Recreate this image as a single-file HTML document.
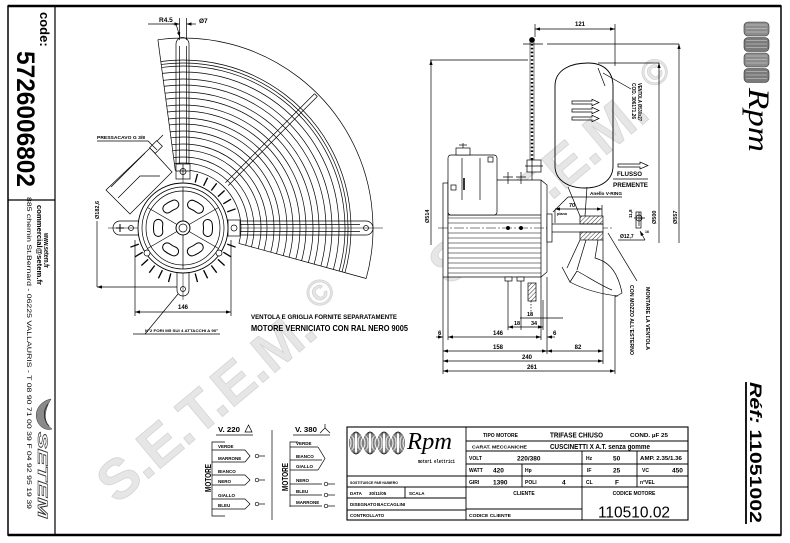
<!DOCTYPE html>
<html><head><meta charset="utf-8">
<style>
html,body{margin:0;padding:0;background:#fff;}
svg{display:block;}
text{font-family:"Liberation Sans",Arial,sans-serif;font-weight:bold;fill:#000;stroke:none;}
.wm{fill:#e6e6e6;stroke:#d4d4d4;stroke-width:.8px;font-size:56px;}
.n{font-weight:normal;}
.serif{font-family:"Liberation Serif","Times New Roman",serif;font-style:italic;font-weight:normal;}
.mono{font-family:"Liberation Mono",monospace;}
</style></head><body>
<svg width="790" height="543" viewBox="0 0 790 543" xmlns="http://www.w3.org/2000/svg">
<defs>
<marker id="ar" viewBox="0 0 6 4" refX="6" refY="2" markerWidth="5" markerHeight="3.4" markerUnits="userSpaceOnUse" orient="auto-start-reverse"><path d="M0,0 L6,2 L0,4z" fill="#000"/></marker>
<pattern id="hatch" width="3" height="3" patternUnits="userSpaceOnUse" patternTransform="rotate(45)"><line x1="0" y1="0" x2="0" y2="3" stroke="#000" stroke-width="0.8"/></pattern>
</defs>
<rect width="790" height="543" fill="#fff"/>

<!-- watermarks -->
<text class="wm" transform="translate(117,505) rotate(-40)">S.E.T.E.M.<tspan font-size="36" dx="14" dy="-20">©</tspan></text>
<text class="wm" transform="translate(449,287) rotate(-40)">S.E.T.E.M.<tspan font-size="36" dx="18" dy="-20">©</tspan></text>

<!-- frame -->
<rect x="8" y="6" width="773" height="529" fill="none" stroke="#000" stroke-width="1.5"/>
<line x1="8" y1="6" x2="781" y2="6" stroke="#000" stroke-width="2.5"/>
<line x1="8" y1="535" x2="781" y2="535" stroke="#000" stroke-width="2.5"/>
<line x1="55" y1="6" x2="55" y2="535" stroke="#000" stroke-width="1.2"/>
<line x1="8" y1="200" x2="55" y2="200" stroke="#000" stroke-width="1.2"/>

<!-- left strip -->
<text transform="translate(40,12) rotate(90)" font-size="13">code:</text>
<text transform="translate(17,51) rotate(90)" font-size="25" textLength="136" lengthAdjust="spacingAndGlyphs">5726006802</text>
<text transform="translate(44,233) rotate(90)" font-size="7.5" textLength="35" lengthAdjust="spacingAndGlyphs">www.setem.fr</text>
<text transform="translate(37,205) rotate(90)" font-size="7.5" textLength="80" lengthAdjust="spacingAndGlyphs">commercial@setem.fr</text>
<text class="n" transform="translate(27,197) rotate(90)" font-size="6.8" textLength="312" lengthAdjust="spacingAndGlyphs">885 chemin St.Bernard  -  06225 VALLAURIS  -  T 08 90 71 00 39  F 04 92 95 19 39</text>
<path d="M51 399 C40 401 34 411 37 420 C39 427 46 431 52 429 C45 424 42 414 51 399 Z" fill="#8a8a8a" stroke="#333" stroke-width="0.5"/>
<path d="M48 404 C43 410 43 420 49 426" fill="none" stroke="#222" stroke-width="0.8"/>
<text transform="translate(38,432) rotate(90)" font-size="14" font-style="italic" textLength="86" lengthAdjust="spacingAndGlyphs" style="fill:#fff;stroke:#333;stroke-width:.6px">SETEM</text>

<!-- right strip logo -->
<g stroke="#333" stroke-width="0.6">
<rect x="744" y="22" width="25" height="14" rx="4" fill="#8c8c8c"/>
<rect x="744" y="37.5" width="25" height="14" rx="4" fill="#7a7a7a"/>
<rect x="744" y="53" width="25" height="14" rx="4" fill="#8c8c8c"/>
<rect x="744" y="68.5" width="25" height="14" rx="4" fill="#7a7a7a"/>
</g>
<g stroke="#d8d8d8" stroke-width="0.6">
<line x1="746" y1="25" x2="767" y2="25"/><line x1="746" y1="28.5" x2="767" y2="28.5"/><line x1="746" y1="32" x2="767" y2="32"/>
<line x1="746" y1="40.5" x2="767" y2="40.5"/><line x1="746" y1="44" x2="767" y2="44"/><line x1="746" y1="47.5" x2="767" y2="47.5"/>
<line x1="746" y1="56" x2="767" y2="56"/><line x1="746" y1="59.5" x2="767" y2="59.5"/><line x1="746" y1="63" x2="767" y2="63"/>
<line x1="746" y1="71.5" x2="767" y2="71.5"/><line x1="746" y1="75" x2="767" y2="75"/><line x1="746" y1="78.5" x2="767" y2="78.5"/>
</g>
<text class="serif" transform="translate(749,88) rotate(90)" font-size="30" textLength="64" lengthAdjust="spacingAndGlyphs">Rpm</text>
<text transform="translate(750,382) rotate(90)" font-size="16.5" textLength="141" lengthAdjust="spacingAndGlyphs"><tspan font-style="italic">Réf:</tspan> 11051002</text>
<line x1="746" y1="382" x2="746" y2="524" stroke="#000" stroke-width="1.8"/>

<!-- ================= FRONT VIEW ================= -->
<g fill="none" stroke="#000" stroke-width="0.7">
<g transform="rotate(262.4 183 228)">
<circle cx="183" cy="228" r="190" stroke-dasharray="374.7 819.1"/>
<circle cx="183" cy="228" r="168" stroke-dasharray="331.3 724.3"/>
<circle cx="183" cy="228" r="165" stroke-dasharray="325.4 711.3"/>
<circle cx="183" cy="228" r="162" stroke-dasharray="319.5 698.4"/>
<circle cx="183" cy="228" r="156" stroke-dasharray="307.7 672.5"/>
<circle cx="183" cy="228" r="149" stroke-dasharray="293.9 642.3"/>
<circle cx="183" cy="228" r="143" stroke-dasharray="282.0 616.5"/>
<circle cx="183" cy="228" r="136" stroke-dasharray="268.2 586.3"/>
<circle cx="183" cy="228" r="130" stroke-dasharray="256.4 560.4"/>
<circle cx="183" cy="228" r="123" stroke-dasharray="242.6 530.3"/>
<circle cx="183" cy="228" r="117" stroke-dasharray="230.7 504.4"/>
<circle cx="183" cy="228" r="110" stroke-dasharray="216.9 474.2"/>
<circle cx="183" cy="228" r="104" stroke-dasharray="205.1 448.3"/>
<circle cx="183" cy="228" r="97" stroke-dasharray="191.3 418.2"/>
<circle cx="183" cy="228" r="91" stroke-dasharray="179.5 392.3"/>
<circle cx="183" cy="228" r="84" stroke-dasharray="165.7 362.1"/>
<circle cx="183" cy="228" r="78" stroke-dasharray="153.8 336.3"/>
<circle cx="183" cy="228" r="71" stroke-dasharray="140.0 306.1"/>
<circle cx="183" cy="228" r="65" stroke-dasharray="128.2 280.2"/>
<circle cx="183" cy="228" r="58" stroke-dasharray="114.4 250.0"/>
</g>
<line x1="157.9" y1="39.7" x2="175.3" y2="170.5"/>
<line x1="238.9" y1="243.4" x2="366.2" y2="278.5"/>
<!-- diagonal bar -->
<line x1="228.2" y1="185.6" x2="317.3" y2="96.5"/>
<line x1="225.4" y1="182.8" x2="314.5" y2="93.7"/>
<line x1="317.3" y1="96.5" x2="314.5" y2="93.7"/>
<!-- centre lines -->
<line x1="108" y1="228" x2="383" y2="228" stroke-width="0.5"/>
<line x1="183" y1="165" x2="183" y2="300" stroke-width="0.5"/>
<!-- top arm -->
<path d="M176 168 V44 A6.5 6.5 0 0 1 189 44 V168"/>
<line x1="179.5" y1="46" x2="179.5" y2="166"/>
<line x1="186.5" y1="46" x2="186.5" y2="166"/>
<rect x="176" y="164" width="14" height="15" fill="#fff"/>
<path d="M176 171 H190 M183 164 V179"/>
<circle cx="183" cy="171.5" r="3"/>
<!-- right arm -->
<path d="M228 221 H366 A7 7 0 0 1 366 235 H228"/>
<line x1="240" y1="224.5" x2="360" y2="224.5"/>
<line x1="240" y1="231.5" x2="360" y2="231.5"/>
<circle cx="366" cy="228" r="2.5"/>
<rect x="228" y="220" width="12" height="16" fill="#fff"/>
<circle cx="234" cy="228" r="3"/>
<!-- left tab -->
<path d="M140 221 H120 A7 7 0 0 0 120 235 H140"/>
<path d="M116 228 H124 M120 224 V232" stroke-width="1"/>
<circle cx="131" cy="228" r="2.5"/>
<!-- bottom tab -->
<path d="M177 272 V290 A6 6 0 0 0 189 290 V272"/>
<circle cx="183" cy="289" r="2.5"/>
<!-- motor -->
<circle cx="183" cy="228" r="45" fill="#fff" stroke-width="0.9"/>
<circle cx="183" cy="228" r="41"/>
<circle cx="183" cy="228" r="37"/>
<g stroke-width="1.3">
<line x1="195.2" y1="182.6" x2="197.5" y2="173.9"/><line x1="203.6" y1="185.8" x2="207.6" y2="177.7"/>
<line x1="211.3" y1="190.5" x2="216.7" y2="183.3"/><line x1="217.9" y1="196.6" x2="224.6" y2="190.5"/>
<line x1="223.3" y1="203.8" x2="231.0" y2="199.2"/><line x1="227.2" y1="211.9" x2="235.6" y2="208.8"/>
<line x1="227.2" y1="244.1" x2="235.6" y2="247.2"/><line x1="223.3" y1="252.2" x2="231.0" y2="256.8"/>
<line x1="217.9" y1="259.4" x2="224.6" y2="265.5"/><line x1="211.3" y1="265.5" x2="216.7" y2="272.7"/>
<line x1="203.6" y1="270.2" x2="207.6" y2="278.3"/><line x1="195.2" y1="273.4" x2="197.5" y2="282.1"/>
<line x1="170.8" y1="273.4" x2="168.5" y2="282.1"/><line x1="162.4" y1="270.2" x2="158.4" y2="278.3"/>
<line x1="154.7" y1="265.5" x2="149.3" y2="272.7"/><line x1="148.1" y1="259.4" x2="141.4" y2="265.5"/>
<line x1="142.7" y1="252.2" x2="135.0" y2="256.8"/><line x1="138.8" y1="244.1" x2="130.4" y2="247.2"/>
</g>
<!-- slots -->
<circle cx="183" cy="228" r="25" stroke-width="10" stroke-dasharray="8 18.18" stroke-linecap="round" transform="rotate(-9.2 183 228)"/>
<circle cx="183" cy="228" r="25" stroke-width="8" stroke="#fff" stroke-dasharray="8 18.18" stroke-linecap="round" transform="rotate(-9.2 183 228)"/>
<!-- spokes -->
<line x1="183" y1="187" x2="183" y2="269"/>
<line x1="147.5" y1="207.5" x2="218.5" y2="248.5"/>
<line x1="147.5" y1="248.5" x2="218.5" y2="207.5"/>
<circle cx="183" cy="228" r="7" fill="#fff" stroke-width="1"/>
<circle cx="183" cy="228" r="4"/>
<circle cx="219" cy="253" r="3" fill="#fff"/>
<circle cx="147" cy="253" r="3" fill="#fff"/>
<!-- terminal box -->
<polygon points="150,148 106,190 130,214 172,172" fill="#fff"/>
<polyline points="145,153 111,187"/>
<polyline points="118,198 140,176 160,176"/>
<rect x="152" y="142" width="8" height="10" transform="rotate(45 156 147)" fill="#fff"/>
<line x1="157" y1="141" x2="163" y2="135"/>
<!-- pressacavo leader -->
<polyline points="97,141 148,141 157,150"/>
<!-- R4.5 / Ø7 -->
<line x1="148" y1="24" x2="176" y2="24"/>
<line x1="176" y1="24" x2="180" y2="37" marker-end="url(#ar)"/>
<line x1="179.5" y1="18" x2="179.5" y2="40"/>
<line x1="186.5" y1="18" x2="186.5" y2="40"/>
<line x1="172" y1="24" x2="179.5" y2="24" marker-end="url(#ar)"/>
<line x1="196" y1="24" x2="186.5" y2="24" marker-end="url(#ar)"/>
<!-- Ø182.6 -->
<line x1="97" y1="221" x2="97" y2="287"/>
<line x1="177" y1="287" x2="97" y2="287" marker-end="url(#ar)"/>
<!-- 146 -->
<line x1="135" y1="240" x2="135" y2="316"/>
<line x1="231" y1="240" x2="231" y2="316"/>
<line x1="135" y1="312" x2="231" y2="312" marker-start="url(#ar)" marker-end="url(#ar)"/>
<!-- fori leader -->
<polyline points="220,334 133,334"/>
<line x1="145" y1="334" x2="178" y2="294"/>
</g>
<text x="159" y="22" font-size="6.5">R4.5</text>
<text x="199" y="23" font-size="6.5">Ø7</text>
<text x="97" y="139" font-size="4.5" textLength="48" lengthAdjust="spacingAndGlyphs">PRESSACAVO G 3/8</text>
<text transform="translate(99,219) rotate(-90)" font-size="5.5">Ø182,6</text>
<text x="183" y="309" font-size="6" text-anchor="middle">146</text>
<text x="145" y="332" font-size="4" textLength="73" lengthAdjust="spacingAndGlyphs">N°2 FORI M5 SUI 4 ATTACCHI A 90°</text>
<text x="251" y="319" font-size="6" textLength="146" lengthAdjust="spacingAndGlyphs">VENTOLA E GRIGLIA FORNITE SEPARATAMENTE</text>
<text x="251" y="331" font-size="8.5" textLength="157" lengthAdjust="spacingAndGlyphs">MOTORE VERNICIATO CON RAL NERO 9005</text>

<!-- ================= SIDE VIEW ================= -->
<g fill="none" stroke="#000" stroke-width="0.7">
<line x1="535" y1="29" x2="615" y2="29" marker-start="url(#ar)" marker-end="url(#ar)"/>
<line x1="535" y1="24" x2="535" y2="37"/>
<line x1="615" y1="24" x2="615" y2="66"/>
<line x1="523" y1="44" x2="543" y2="44"/>
<line x1="547" y1="44" x2="679" y2="44"/>
<line x1="430" y1="60" x2="528" y2="60"/>
<line x1="598" y1="63" x2="659" y2="63"/>
<line x1="431" y1="60" x2="431" y2="245" marker-start="url(#ar)"/>
<line x1="659" y1="63" x2="659" y2="243" marker-start="url(#ar)"/>
<line x1="679" y1="44" x2="679" y2="243" marker-start="url(#ar)"/>
<!-- grille -->
<line x1="530" y1="42" x2="530" y2="160" stroke-width="0.5"/>
<line x1="534" y1="42" x2="534" y2="160" stroke-width="0.5"/>
<line x1="532" y1="44" x2="532" y2="160" stroke-width="2.4" stroke-dasharray="1.6 2.2"/>
<circle cx="532" cy="40" r="2.5" fill="#000"/>
<line x1="532" y1="172" x2="532" y2="180"/>
<!-- fan blade -->
<path d="M555 86 C555 69 572 63 588 63 C604 63 613 72 613 86 L613 166 C613 180 601 188 585 188 C568 188 555 180 555 166 Z" stroke-width="0.9"/>
<line x1="598" y1="68" x2="605" y2="86"/>
<line x1="603" y1="73" x2="631" y2="89"/>
<path d="M572 101 H592 V99.3 L599 102.5 L592 105.7 V104 H572 Z"/>
<path d="M572 109 H592 V107.3 L599 110.5 L592 113.7 V112 H572 Z"/>
<path d="M572 117 H592 V115.3 L599 118.5 L592 121.7 V120 H572 Z"/>
<path d="M618 164 H640 V162 L648 165.5 L640 169 V167 H618 Z"/>
<line x1="613" y1="179" x2="648" y2="179"/>
<!-- blade roots -->
<line x1="568" y1="187" x2="580" y2="216"/>
<line x1="587" y1="187" x2="585" y2="216"/>
<line x1="580" y1="240" x2="567" y2="268"/>
<line x1="586" y1="240" x2="577" y2="270"/>
<path d="M562 267 L570 282 L577 271"/>
<path d="M570 282 C585 290 600 294 618 296"/>
<path d="M577 271 C590 278 600 285 612 290"/>
<path d="M598 240 L595 258 C606 261 617 268 622 293 L615 297"/>
<!-- body -->
<rect x="443" y="183" width="5" height="94" fill="#fff"/>
<path d="M448 180 H541 L547 185 V272 L541 277 H448 Z" fill="#fff"/>
<line x1="448" y1="215" x2="541" y2="215"/>
<g stroke-width="0.6">
<line x1="448" y1="218" x2="541" y2="218"/><line x1="448" y1="223" x2="541" y2="223"/>
<line x1="448" y1="233" x2="541" y2="233"/><line x1="448" y1="238" x2="541" y2="238"/>
<line x1="448" y1="243" x2="541" y2="243"/><line x1="448" y1="248" x2="541" y2="248"/>
<line x1="448" y1="253" x2="541" y2="253"/><line x1="448" y1="258" x2="541" y2="258"/>
<line x1="448" y1="263" x2="541" y2="263"/><line x1="448" y1="268" x2="541" y2="268"/>
<line x1="448" y1="273" x2="541" y2="273"/>
</g>
<line x1="541" y1="180" x2="541" y2="277"/>
<!-- terminal box -->
<rect x="448" y="155" width="49" height="60" rx="3" fill="#fff"/>
<line x1="462" y1="158" x2="462" y2="200"/>
<line x1="480" y1="158" x2="480" y2="200"/>
<rect x="488" y="157" width="5" height="5"/>
<rect x="451" y="185" width="5" height="5"/>
<line x1="464" y1="178" x2="464" y2="190" stroke-width="1.6"/>
<rect x="456" y="148" width="14" height="7" fill="#fff"/>
<line x1="463" y1="143" x2="463" y2="148"/>
<line x1="459" y1="145" x2="467" y2="145"/>
<!-- crosses -->
<path d="M503 177 H513 M508 172 V184 M516 177 H526 M521 172 V184"/>
<circle cx="508" cy="228" r="1.6" fill="#000"/>
<circle cx="521" cy="228" r="1.6" fill="#000"/>
<!-- arm nut -->
<rect x="527" y="160" width="14" height="12" fill="#fff"/>
<path d="M525 166 H543 M532 158 V174"/>
<!-- shaft / hub -->
<line x1="438" y1="228" x2="612" y2="228" stroke-width="0.5" stroke-dasharray="10 2 2 2"/>
<rect x="547" y="224" width="56" height="8" fill="#fff"/>
<rect x="547" y="214" width="5" height="28" fill="#fff"/>
<rect x="580" y="216" width="23" height="8" fill="url(#hatch)"/>
<rect x="580" y="232" width="23" height="8" fill="url(#hatch)"/>
<!-- 70 / piano / V-ring -->
<line x1="555" y1="209" x2="602" y2="209" marker-start="url(#ar)" marker-end="url(#ar)"/>
<line x1="602" y1="205" x2="602" y2="216"/>
<line x1="568" y1="197" x2="622" y2="197"/>
<line x1="568" y1="197" x2="553" y2="212"/>
<path d="M555 210 V223"/>
<!-- detail -->
<rect x="636" y="212" width="5" height="16"/>
<circle cx="639" cy="218" r="3"/>
<path d="M634 218 H645 M639 212 V226"/>
<line x1="618" y1="240" x2="645" y2="240"/>
<line x1="645" y1="240" x2="640" y2="231" marker-end="url(#ar)"/>
<line x1="608" y1="233" x2="637" y2="281"/>
<!-- bottom dims -->
<line x1="443" y1="277" x2="443" y2="374"/>
<line x1="448" y1="277" x2="448" y2="340"/>
<line x1="541" y1="277" x2="541" y2="340"/>
<line x1="547" y1="277" x2="547" y2="354"/>
<line x1="603" y1="240" x2="603" y2="364"/>
<line x1="615" y1="296" x2="615" y2="374"/>
<line x1="448" y1="337" x2="541" y2="337" marker-start="url(#ar)" marker-end="url(#ar)"/>
<line x1="436" y1="337" x2="443" y2="337" marker-end="url(#ar)"/>
<line x1="555" y1="337" x2="547" y2="337" marker-end="url(#ar)"/>
<line x1="443" y1="351" x2="547" y2="351" marker-start="url(#ar)" marker-end="url(#ar)"/>
<line x1="547" y1="351" x2="603" y2="351" marker-start="url(#ar)" marker-end="url(#ar)"/>
<line x1="443" y1="361" x2="603" y2="361" marker-start="url(#ar)" marker-end="url(#ar)"/>
<line x1="443" y1="371" x2="615" y2="371" marker-start="url(#ar)" marker-end="url(#ar)"/>
<!-- feet -->
<rect x="505" y="277" width="7" height="4" fill="#fff"/>
<rect x="517" y="277" width="7" height="4" fill="#fff"/>
<line x1="508" y1="281" x2="508" y2="330"/>
<line x1="521" y1="281" x2="521" y2="330"/>
<rect x="528" y="283" width="8" height="18" fill="url(#hatch)"/>
<line x1="531" y1="301" x2="531" y2="315" stroke-dasharray="1.5 1.5"/>
<line x1="520" y1="318" x2="563" y2="318"/>
<line x1="543" y1="300" x2="543" y2="330"/>
<line x1="508" y1="327" x2="543" y2="327" marker-start="url(#ar)" marker-end="url(#ar)"/>
</g>
<text x="575" y="26" font-size="6">121</text>
<text transform="translate(429,223) rotate(-90)" font-size="5.5">Ø514</text>
<text transform="translate(656,224) rotate(-90)" font-size="5.5">Ø500</text>
<text transform="translate(677,224) rotate(-90)" font-size="5.5">Ø557</text>
<text transform="translate(638,83) rotate(90)" font-size="5" textLength="38" lengthAdjust="spacingAndGlyphs">VENTOLA Ø530x27</text>
<text transform="translate(632,83) rotate(90)" font-size="5" textLength="36" lengthAdjust="spacingAndGlyphs">COD. 306171.26</text>
<text x="617" y="176" font-size="6.5" textLength="25" lengthAdjust="spacingAndGlyphs">FLUSSO</text>
<text x="613" y="187" font-size="6.5" textLength="35" lengthAdjust="spacingAndGlyphs">PREMENTE</text>
<text x="590" y="195" font-size="4.2" textLength="32" lengthAdjust="spacingAndGlyphs">Anello V-RING</text>
<text x="569" y="207" font-size="5.5">70</text>
<text x="557" y="215" font-size="3.8">piano</text>
<text transform="translate(632,218) rotate(-90)" font-size="4.5">11,8</text>
<text x="645" y="233" font-size="3.5">16</text>
<text x="620" y="238" font-size="5">Ø12,7</text>
<text transform="translate(646,287) rotate(90)" font-size="5.5" textLength="63" lengthAdjust="spacingAndGlyphs">MONTARE LA VENTOLA</text>
<text transform="translate(630,285) rotate(90)" font-size="5.5" textLength="70" lengthAdjust="spacingAndGlyphs">CON MOZZO ALL'ESTERNO</text>
<text x="438" y="335" font-size="6">6</text>
<text x="498" y="335" font-size="6" text-anchor="middle">146</text>
<text x="553" y="335" font-size="6">6</text>
<text x="498" y="349" font-size="6" text-anchor="middle">158</text>
<text x="578" y="349" font-size="6" text-anchor="middle">82</text>
<text x="527" y="359" font-size="6" text-anchor="middle">240</text>
<text x="532" y="369" font-size="6" text-anchor="middle">261</text>
<text x="530" y="316" font-size="5.5" text-anchor="middle">18</text>
<text x="517" y="325" font-size="5.5" text-anchor="middle">18</text>
<text x="534" y="325" font-size="5.5" text-anchor="middle">34</text>

<!-- ================= WIRING ================= -->
<g fill="none" stroke="#000" stroke-width="0.7">
<line x1="216" y1="435" x2="253" y2="435"/>
<polygon points="245,432 248.5,425 252,432"/>
<line x1="293" y1="435" x2="330" y2="435"/>
<path d="M325 424 V428 L320 433 M325 428 L330 433"/>
<line x1="272" y1="430" x2="272" y2="520"/>
<path d="M225 442 H212 V516 H225"/>
<line x1="212" y1="450" x2="245" y2="450"/><line x1="212" y1="462" x2="245" y2="462"/>
<line x1="212" y1="475" x2="245" y2="475"/><line x1="212" y1="485" x2="245" y2="485"/>
<line x1="212" y1="499" x2="245" y2="499"/><line x1="212" y1="509" x2="245" y2="509"/>
<polyline points="245,450 250,456 245,462"/>
<polyline points="245,475 250,480 245,485"/>
<polyline points="245,499 250,504 245,509"/>
<circle cx="257" cy="456" r="1.8"/><line x1="259" y1="456" x2="265" y2="456"/>
<circle cx="257" cy="480" r="1.8"/><line x1="259" y1="480" x2="265" y2="480"/>
<circle cx="257" cy="504" r="1.8"/><line x1="259" y1="504" x2="265" y2="504"/>
<path d="M298 442 H290 V507"/>
<line x1="290" y1="447" x2="318" y2="447"/><line x1="290" y1="460" x2="322" y2="460"/>
<line x1="290" y1="470" x2="318" y2="470"/>
<polyline points="318,447 325,458.5 318,470"/>
<line x1="290" y1="484" x2="322" y2="484"/><line x1="290" y1="495" x2="322" y2="495"/>
<line x1="290" y1="506" x2="322" y2="506"/>
<circle cx="326" cy="484" r="1.8"/><line x1="328" y1="484" x2="335" y2="484"/>
<circle cx="326" cy="495" r="1.8"/><line x1="328" y1="495" x2="335" y2="495"/>
<circle cx="326" cy="506" r="1.8"/><line x1="328" y1="506" x2="335" y2="506"/>
</g>
<text x="218" y="432" font-size="7.5" textLength="22" lengthAdjust="spacingAndGlyphs">V. 220</text>
<text x="295" y="432" font-size="7.5" textLength="22" lengthAdjust="spacingAndGlyphs">V. 380</text>
<text transform="translate(211,478) rotate(-90)" font-size="8" text-anchor="middle" textLength="28" lengthAdjust="spacingAndGlyphs">MOTORE</text>
<text transform="translate(288,477) rotate(-90)" font-size="8" text-anchor="middle" textLength="28" lengthAdjust="spacingAndGlyphs">MOTORE</text>
<g font-size="4.5">
<text x="218" y="448">VERDE</text><text x="218" y="460">MARRONE</text>
<text x="218" y="473">BIANCO</text><text x="218" y="483">NERO</text>
<text x="218" y="497">GIALLO</text><text x="218" y="507">BLEU</text>
<text x="296" y="445">VERDE</text><text x="296" y="458">BIANCO</text>
<text x="296" y="468">GIALLO</text><text x="296" y="482">NERO</text>
<text x="296" y="493">BLEU</text><text x="296" y="504">MARRONE</text>
</g>

<!-- ================= TABLE ================= -->
<g stroke="#000" fill="none" stroke-width="0.9">
<rect x="347" y="427" width="341" height="93" stroke-width="1.1"/>
<line x1="466" y1="427" x2="466" y2="520"/>
<line x1="347" y1="476" x2="466" y2="476"/>
<line x1="347" y1="487" x2="466" y2="487"/>
<line x1="347" y1="498" x2="466" y2="498"/>
<line x1="347" y1="510" x2="466" y2="510"/>
<line x1="405" y1="487" x2="405" y2="498"/>
<line x1="466" y1="441" x2="688" y2="441"/>
<line x1="466" y1="451" x2="688" y2="451"/>
<line x1="466" y1="464" x2="688" y2="464"/>
<line x1="466" y1="476" x2="688" y2="476"/>
<line x1="466" y1="487" x2="688" y2="487"/>
<line x1="466" y1="509" x2="582" y2="509"/>
<line x1="582" y1="451" x2="582" y2="520"/>
<line x1="637" y1="451" x2="637" y2="487"/>
<line x1="522" y1="464" x2="522" y2="487"/>
</g>
<g fill="none" stroke="#000" stroke-width="0.5">
<ellipse cx="356" cy="443" rx="6.5" ry="11"/><ellipse cx="356" cy="443" rx="5" ry="11"/><ellipse cx="356" cy="443" rx="3.5" ry="11"/><ellipse cx="356" cy="443" rx="2" ry="11"/>
<ellipse cx="370" cy="443" rx="6.5" ry="11"/><ellipse cx="370" cy="443" rx="5" ry="11"/><ellipse cx="370" cy="443" rx="3.5" ry="11"/><ellipse cx="370" cy="443" rx="2" ry="11"/>
<ellipse cx="384" cy="443" rx="6.5" ry="11"/><ellipse cx="384" cy="443" rx="5" ry="11"/><ellipse cx="384" cy="443" rx="3.5" ry="11"/><ellipse cx="384" cy="443" rx="2" ry="11"/>
<ellipse cx="398" cy="443" rx="6.5" ry="11"/><ellipse cx="398" cy="443" rx="5" ry="11"/><ellipse cx="398" cy="443" rx="3.5" ry="11"/><ellipse cx="398" cy="443" rx="2" ry="11"/>
</g>
<text class="serif" x="407" y="449" font-size="24" textLength="45" lengthAdjust="spacingAndGlyphs">Rpm</text>
<text class="mono" x="418" y="463" font-size="5.5" textLength="37" lengthAdjust="spacingAndGlyphs">motori elettrici</text>
<g font-size="4.5">
<text x="350" y="484" font-size="4" textLength="48" lengthAdjust="spacingAndGlyphs">SOSTITUISCE PAR NUMERO</text>
<text x="350" y="495">DATA</text><text x="369" y="495">30/11/05</text><text x="409" y="495">SCALA</text>
<text x="350" y="506">DISEGNATO</text><text x="377" y="506">BACCAGLINI</text>
<text x="350" y="517">CONTROLLATO</text>
<text x="483" y="437" font-size="5" textLength="35" lengthAdjust="spacingAndGlyphs">TIPO MOTORE</text>
<text x="550" y="437.5" font-size="7.5" textLength="53" lengthAdjust="spacingAndGlyphs">TRIFASE CHIUSO</text>
<text x="630" y="437" font-size="5.5" textLength="38" lengthAdjust="spacingAndGlyphs">COND. µF 25</text>
<text x="472" y="448.5" textLength="55" lengthAdjust="spacingAndGlyphs">CARAT. MECCANICHE</text>
<text x="550" y="449" font-size="7" textLength="100" lengthAdjust="spacingAndGlyphs">CUSCINETTI X A.T. senza gomme</text>
<text x="469" y="460" font-size="5">VOLT</text>
<text x="517" y="460.5" font-size="6.5">220/380</text>
<text x="586" y="460" font-size="5">Hz</text>
<text x="613" y="460.5" font-size="6.5">50</text>
<text x="640" y="460" font-size="5" textLength="42" lengthAdjust="spacingAndGlyphs">AMP. 2.35/1.36</text>
<text x="469" y="472" font-size="5">WATT</text>
<text x="493" y="472.5" font-size="6.5">420</text>
<text x="525" y="472" font-size="5">Hp</text>
<text x="587" y="472" font-size="5">IF</text>
<text x="613" y="472.5" font-size="6.5">25</text>
<text x="642" y="472" font-size="5">VC</text>
<text x="672" y="472.5" font-size="6.5">450</text>
<text x="469" y="484" font-size="5">GIRI</text>
<text x="493" y="484.5" font-size="6.5">1390</text>
<text x="525" y="484" font-size="5">POLI</text>
<text x="562" y="484.5" font-size="6.5">4</text>
<text x="586" y="484" font-size="5">CL</text>
<text x="615" y="484.5" font-size="6.5">F</text>
<text x="640" y="484" font-size="5">n°VEL</text>
<text x="524" y="495" font-size="5" text-anchor="middle">CLIENTE</text>
<text x="634" y="495" font-size="5" text-anchor="middle">CODICE MOTORE</text>
<text x="469" y="517" textLength="42" lengthAdjust="spacingAndGlyphs">CODICE CLIENTE</text>
</g>
<text class="n" x="634" y="517.5" font-size="15.5" text-anchor="middle">110510.02</text>
</svg>
</body></html>
